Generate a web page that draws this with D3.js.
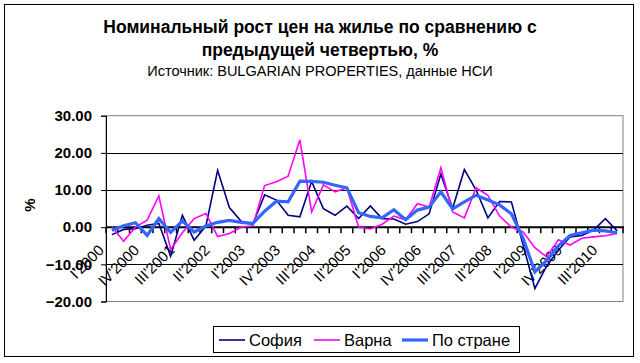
<!DOCTYPE html>
<html>
<head>
<meta charset="utf-8">
<script src="https://cdn.jsdelivr.net/npm/d3@7"></script>
<style>
  body { margin: 0; background: #fff; }
  text { font-family: Arial, 'Liberation Sans', sans-serif; fill: #000; }
</style>
</head>
<body>
<div id="chart"></div>
<script>
var quarters = [
  "I'2000", "II'2000", "III'2000", "IV'2000",
  "I'2001", "II'2001", "III'2001", "IV'2001",
  "I'2002", "II'2002", "III'2002", "IV'2002",
  "I'2003", "II'2003", "III'2003", "IV'2003",
  "I'2004", "II'2004", "III'2004", "IV'2004",
  "I'2005", "II'2005", "III'2005", "IV'2005",
  "I'2006", "II'2006", "III'2006", "IV'2006",
  "I'2007", "II'2007", "III'2007", "IV'2007",
  "I'2008", "II'2008", "III'2008", "IV'2008",
  "I'2009", "II'2009", "III'2009", "IV'2009",
  "I'2010", "II'2010", "III'2010", "IV'2010"
];

var sofia = [
  -2.0, -0.6, -0.4, 0.5, 1.0, -7.8, 3.2, -3.5, 0.3, 15.3, 5.3, 1.6,
  0.8, 8.7, 7.3, 3.2, 2.8, 12.3, 5.0, 3.2, 5.7, 2.3, 5.7, 2.3,
  2.2, 0.8, 1.5, 3.6, 14.3, 5.0, 15.5, 10.0, 2.5, 6.9, 6.8, -4.8,
  -16.5, -10.5, -6.2, -2.6, -2.2, -0.8, 2.3, -1.0
];

var varna = [
  0.1, -3.8, 0.0, 1.9, 8.4, -6.0, -1.5, 2.3, 3.7, -2.5, -1.7, 0.0,
  0.4, 11.2, 12.2, 13.7, 23.5, 4.1, 11.4, 9.5, 10.6, 0.0, -0.5, 0.8,
  3.0, 2.0, 6.3, 5.4, 16.0, 4.1, 2.5, 10.6, 8.6, 3.0, 0.0, -1.3,
  -5.5, -8.0, -3.4, -4.8, -3.0, -2.6, -2.3, -1.7
];

var country = [
  -0.8, 0.4, 1.2, -2.2, 2.3, -1.4, 1.7, -1.3, 0.3, 1.3, 1.8, 1.3,
  1.0, 4.3, 7.0, 6.8, 12.4, 12.3, 12.1, 11.3, 10.6, 3.9, 2.9, 2.5,
  4.7, 2.0, 4.6, 5.4, 9.5, 4.9, 6.8, 8.6, 7.3, 6.0, 3.6, -3.0,
  -12.0, -9.0, -5.0, -2.2, -1.5, -0.8, -1.0, -1.5
];

var yTicks = [-20, -10, 0, 10, 20, 30];
var seriesNames = ['София', 'Варна', 'По стране'];
var seriesColors = ['#000080', '#ff00ff', '#3366ff'];
var seriesWidths = [1.6, 1.6, 3.2];

var width = 640, height = 363;
var plotLeft = 106, plotRight = 623, plotTop = 115.7, plotBottom = 301.5;

var svg = d3.select('#chart').append('svg')
    .attr('width', width)
    .attr('height', height);

svg.append('rect')
    .attr('x', 0).attr('y', 0)
    .attr('width', width).attr('height', height)
    .attr('fill', '#fff');

// outer chart frame
svg.append('rect')
    .attr('x', 4.5).attr('y', 4.5)
    .attr('width', 629).attr('height', 352)
    .attr('fill', 'none')
    .attr('stroke', '#000')
    .attr('stroke-width', 1);

// titles
svg.append('text')
    .attr('x', 320).attr('y', 33)
    .attr('text-anchor', 'middle')
    .style('font-size', '17.5px').style('font-weight', 'bold')
    .text('Номинальный рост цен на жилье по сравнению с');
svg.append('text')
    .attr('x', 320).attr('y', 56)
    .attr('text-anchor', 'middle')
    .style('font-size', '17.5px').style('font-weight', 'bold')
    .text('предыдущей четвертью, %');
svg.append('text')
    .attr('x', 320).attr('y', 76)
    .attr('text-anchor', 'middle')
    .style('font-size', '14.5px')
    .text('Источник: BULGARIAN PROPERTIES, данные НСИ');

var x = d3.scaleBand()
    .domain(quarters)
    .range([plotLeft, plotRight]);

var y = d3.scaleLinear()
    .domain([-20, 30])
    .range([plotBottom, plotTop]);

function cx(q) {
  return x(q) + x.bandwidth() / 2;
}

// plot area frame
svg.append('rect')
    .attr('x', plotLeft).attr('y', plotTop)
    .attr('width', plotRight - plotLeft).attr('height', plotBottom - plotTop)
    .attr('fill', 'none')
    .attr('stroke', '#808080')
    .attr('stroke-width', 1);

// gridlines
svg.append('g').selectAll('line')
    .data(yTicks.filter(function(d) { return d !== -20 && d !== 30 && d !== 0; }))
  .enter().append('line')
    .attr('x1', plotLeft).attr('x2', plotRight)
    .attr('y1', function(d) { return Math.round(y(d)) + 0.5; })
    .attr('y2', function(d) { return Math.round(y(d)) + 0.5; })
    .attr('stroke', '#000')
    .attr('stroke-width', 1);

// y axis
var yAxis = svg.append('g')
    .attr('transform', 'translate(' + plotLeft + ',0)')
    .call(d3.axisLeft(y).tickValues(yTicks).tickFormat(d3.format('.2f')).tickSize(5).tickPadding(9));
yAxis.select('.domain').attr('stroke', '#000');
yAxis.selectAll('text')
    .style('font-size', '15px')
    .style('font-weight', 'bold')
    .attr('fill', '#000');

svg.append('text')
    .attr('transform', 'translate(35,205) rotate(-90)')
    .attr('text-anchor', 'middle')
    .style('font-size', '15px').style('font-weight', 'bold')
    .text('%');

// category axis at zero
var zeroY = y(0);
svg.append('line')
    .attr('x1', plotLeft).attr('x2', plotRight + 1)
    .attr('y1', zeroY).attr('y2', zeroY)
    .attr('stroke', '#000')
    .attr('stroke-width', 2);

svg.append('g').selectAll('line')
    .data(quarters.concat(['end']))
  .enter().append('line')
    .attr('x1', function(d, i) { return plotLeft + i * x.step(); })
    .attr('x2', function(d, i) { return plotLeft + i * x.step(); })
    .attr('y1', zeroY)
    .attr('y2', zeroY + 6)
    .attr('stroke', '#000')
    .attr('stroke-width', 1.5);

svg.append('g').selectAll('text')
    .data(quarters.filter(function(d, i) { return i % 3 === 0; }))
  .enter().append('text')
    .attr('transform', function(d) {
      return 'translate(' + (cx(d) - 7) + ',' + (zeroY + 24) + ') rotate(-45)';
    })
    .attr('text-anchor', 'end')
    .style('font-size', '15px')
    .text(function(d) { return d; });

// series lines
var allSeries = [sofia, varna, country];
var line = d3.line()
    .x(function(d, i) { return cx(quarters[i]); })
    .y(function(d) { return y(d); });

allSeries.forEach(function(values, k) {
  svg.append('path')
      .datum(values)
      .attr('d', line)
      .attr('fill', 'none')
      .attr('stroke', seriesColors[k])
      .attr('stroke-width', seriesWidths[k])
      .attr('stroke-linejoin', 'miter');
});

// legend
var legend = svg.append('g');
legend.append('rect')
    .attr('x', 213.5).attr('y', 326.5)
    .attr('width', 306).attr('height', 26)
    .attr('fill', '#fff')
    .attr('stroke', '#000');

var legendX = [219, 314, 402];
seriesNames.forEach(function(name, k) {
  legend.append('line')
      .attr('x1', legendX[k]).attr('x2', legendX[k] + 26)
      .attr('y1', 340).attr('y2', 340)
      .attr('stroke', seriesColors[k])
      .attr('stroke-width', seriesWidths[k]);
  legend.append('text')
      .attr('x', legendX[k] + 30).attr('y', 345.5)
      .style('font-size', '16.5px')
      .text(name);
});
</script>
</body>
</html>
